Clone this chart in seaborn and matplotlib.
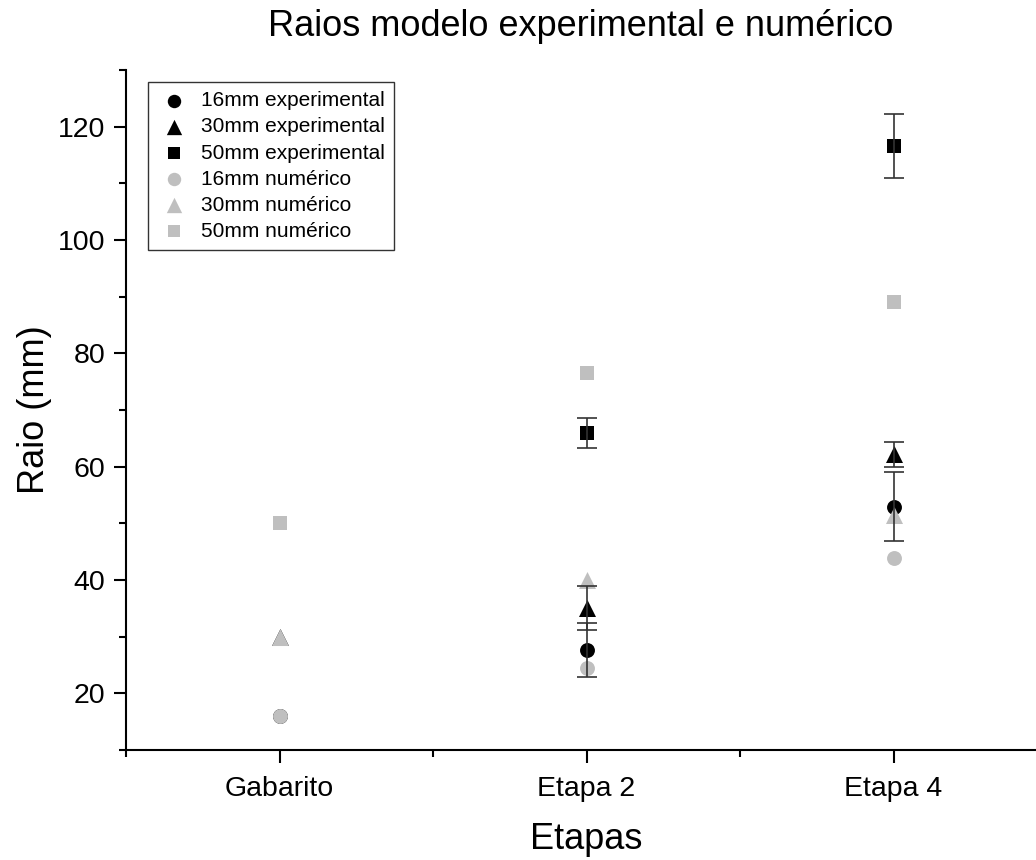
import numpy as np
import pandas as pd
import matplotlib
matplotlib.use("Agg")
import matplotlib.pyplot as plt
from matplotlib.ticker import MultipleLocator, FixedLocator
import seaborn as sns

# Stages and measured/simulated radii (mm)
stages = ["Gabarito", "Etapa 2", "Etapa 4"]

exp_16 = [16.0, 27.6, 52.9]
exp_16_err = [0.0, 4.8, 6.1]
exp_30 = [30.0, 35.0, 62.2]
exp_30_err = [0.0, 3.9, 2.2]
exp_50 = [50.0, 66.0, 116.6]
exp_50_err = [0.0, 2.65, 5.65]

num_16 = [16.0, 24.4, 43.8]
num_30 = [30.0, 40.0, 51.4]
num_50 = [50.0, 76.6, 89.0]

series = [
    ("16mm experimental", exp_16, exp_16_err, "black", "o", 115),
    ("30mm experimental", exp_30, exp_30_err, "black", "^", 150),
    ("50mm experimental", exp_50, exp_50_err, "black", "s", 95),
    ("16mm numérico", num_16, None, "#bfbfbf", "o", 115),
    ("30mm numérico", num_30, None, "#bfbfbf", "^", 150),
    ("50mm numérico", num_50, None, "#bfbfbf", "s", 95),
]

sns.set_style("ticks")
plt.rcParams["font.family"] = ["Liberation Sans", "DejaVu Sans"]
plt.rcParams["text.color"] = "black"
plt.rcParams["axes.labelcolor"] = "black"

fig = plt.figure(figsize=(10.36, 8.6), dpi=100)
ax = fig.add_axes([126 / 1036, 110 / 860, (1047 - 126) / 1036, 680 / 860])

xpos = np.arange(1, len(stages) + 1)

for i, (label, vals, errs, color, marker, size) in enumerate(series):
    df = pd.DataFrame({"Etapa": xpos, "Raio": vals})
    sns.scatterplot(data=df, x="Etapa", y="Raio", ax=ax, color=color,
                    marker=marker, s=size, linewidth=0, label=label,
                    zorder=3 + (i >= 3))
    if errs is not None:
        e = np.asarray(errs)
        has = e > 0
        ax.errorbar(xpos[has], np.asarray(vals)[has], yerr=e[has], fmt="none",
                    ecolor="#333333", elinewidth=1.2, capsize=7, capthick=1.2,
                    zorder=5)

ax.set_xlim(0.5, 3.5)
ax.set_ylim(10, 130)
ax.xaxis.set_major_locator(FixedLocator(xpos))
ax.set_xticklabels(stages)
ax.xaxis.set_minor_locator(FixedLocator([0.5, 1.5, 2.5, 3.5]))
ax.yaxis.set_major_locator(MultipleLocator(20))
ax.yaxis.set_minor_locator(MultipleLocator(10))

for side in ["top", "right"]:
    ax.spines[side].set_visible(False)
for side in ["left", "bottom"]:
    ax.spines[side].set_linewidth(1.5)
    ax.spines[side].set_color("black")

ax.tick_params(axis="both", which="major", length=9, width=1.5,
               labelsize=20.5, colors="black", direction="out")
ax.tick_params(axis="both", which="minor", length=5, width=1.5,
               colors="black", direction="out")
ax.tick_params(axis="x", pad=10)
ax.tick_params(axis="y", pad=6)

ax.set_xlabel("Etapas", fontsize=26, labelpad=14)
ax.set_ylabel("Raio (mm)", fontsize=26, labelpad=4)
fig.suptitle("Raios modelo experimental e numérico", fontsize=26,
             x=581 / 1036, y=1 - 27 / 860, va="center")

leg = ax.legend(loc="upper left", bbox_to_anchor=(22 / 921, 1 - 12 / 680),
                frameon=True, fancybox=False, fontsize=15,
                borderpad=0.45, labelspacing=0.34, handletextpad=0.5,
                handlelength=1.6, borderaxespad=0, markerscale=0.9)
leg.get_frame().set_edgecolor("black")
leg.get_frame().set_linewidth(1.0)

fig.savefig("out.png", dpi=100)
